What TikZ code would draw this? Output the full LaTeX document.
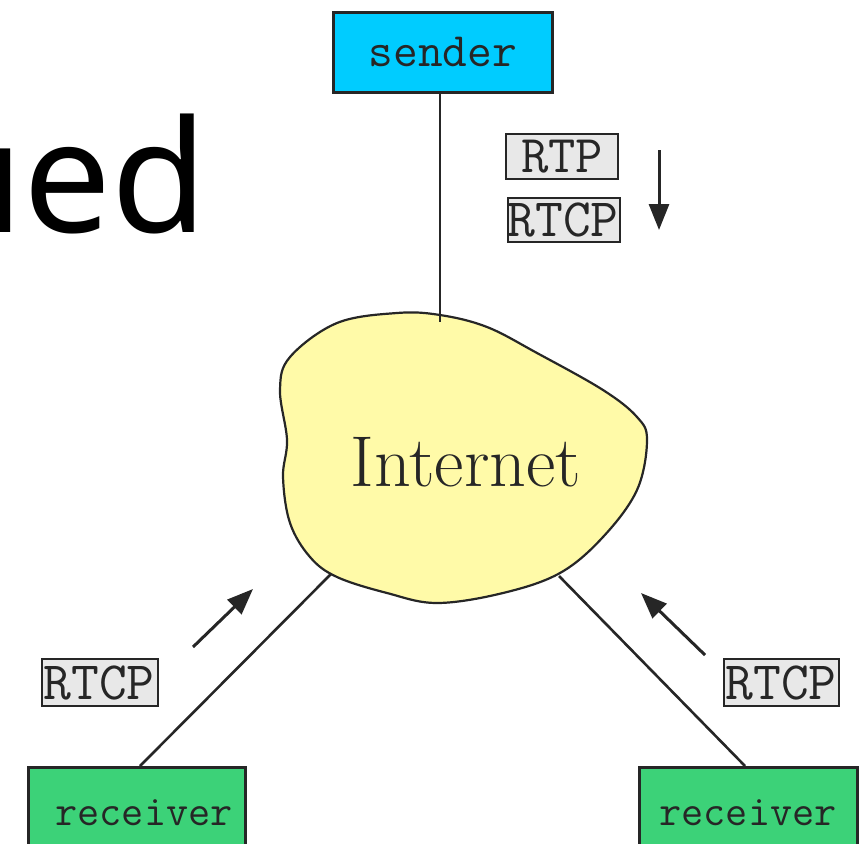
\documentclass[tikz,border=0pt]{standalone}
\usepackage{fontspec}
\newfontfamily\titlefont{Noto Sans}
\usetikzlibrary{arrows.meta}
\definecolor{sendercol}{HTML}{00CCFF}
\definecolor{recvcol}{HTML}{3CD278}
\definecolor{tagcol}{HTML}{E8E8E8}
\definecolor{cloudcol}{HTML}{FFFAA8}
\tikzset{
  mono/.style={font=\ttfamily\fontsize{#1}{#1}\selectfont, text=black!85},
  hostbox/.style={draw=black!85, line width=2.6pt, inner sep=0pt, anchor=north west},
  tagbox/.style={draw=black!85, line width=2.2pt, fill=tagcol, inner sep=0pt, anchor=north west},
  link/.style={draw=black!85, line width=2.6pt},
  flow/.style={draw=black!85, line width=3pt, -{Triangle[length=26pt,width=20pt]}},
}
\begin{document}
\begin{tikzpicture}[x=1pt,y=-1pt]
\useasboundingbox (0,0) rectangle (866,843);
% partial title
\node[anchor=base east, inner sep=0pt, font=\titlefont\fontsize{156}{160}\selectfont] (title) at (208,232) {ued};
% cloud
\path[fill=cloudcol, draw=black!85, line width=2.2pt] plot[smooth cycle, tension=0.6] coordinates {
 (440,315) (397,313) (337,323) (290,357) (280,390) (287,440) (283,477) (290,523) (310,557) (337,577)
 (387,593) (437,603) (503,593) (560,573) (603,537) (637,490) (647,440) (637,417) (603,390) (537,353) (487,327)};
\node[font=\fontsize{72}{76}\selectfont, text=black!85] (internet) at (466,462) {Internet};
\coordinate (ctop) at (440,322);
\coordinate (cbl) at (331,574);
\coordinate (cbr) at (559,576);
% sender
\node[hostbox, fill=sendercol, minimum width=219pt, minimum height=80pt] (sender) at (332,11) {};
\node[mono=48] at (sender.center) {sender};
% receivers
\node[hostbox, fill=recvcol, minimum width=217pt, minimum height=100pt] (recvL) at (27,766) {};
\node[mono=43, anchor=base] at (144,825) {receiver};
\node[hostbox, fill=recvcol, minimum width=218pt, minimum height=100pt] (recvR) at (638,766) {};
\node[mono=43, anchor=base] at (748,825) {receiver};
% links
\draw[link] (sender.south -| ctop) -- (ctop);
\draw[link] (cbl) -- (140,766);
\draw[link] (cbr) -- (745,766);
% tags
\node[tagbox, minimum width=112pt, minimum height=45pt] (rtp) at (505,133) {};
\node[mono=53, anchor=base] at (rtp.center |- 0,172) {RTP};
\node[tagbox, minimum width=112pt, minimum height=44pt] (rtcpS) at (507,197) {};
\node[mono=54, anchor=base] at (563,236) {RTCP};
\node[tagbox, minimum width=116pt, minimum height=47pt] (rtcpL) at (41,658) {};
\node[mono=54, anchor=base] at (99,699) {RTCP};
\node[tagbox, minimum width=115pt, minimum height=47pt] (rtcpR) at (723,658) {};
\node[mono=54, anchor=base] at (781,699) {RTCP};
% flow arrows
\coordinate (a1s) at (659,150); \coordinate (a1e) at (659,230);
\draw[flow] (a1s) -- (a1e);
\coordinate (a2s) at (193,647); \coordinate (a2e) at (253,589);
\draw[flow] (a2s) -- (a2e);
\coordinate (a3s) at (705,655); \coordinate (a3e) at (641,593);
\draw[flow] (a3s) -- (a3e);
\end{tikzpicture}
\end{document}
